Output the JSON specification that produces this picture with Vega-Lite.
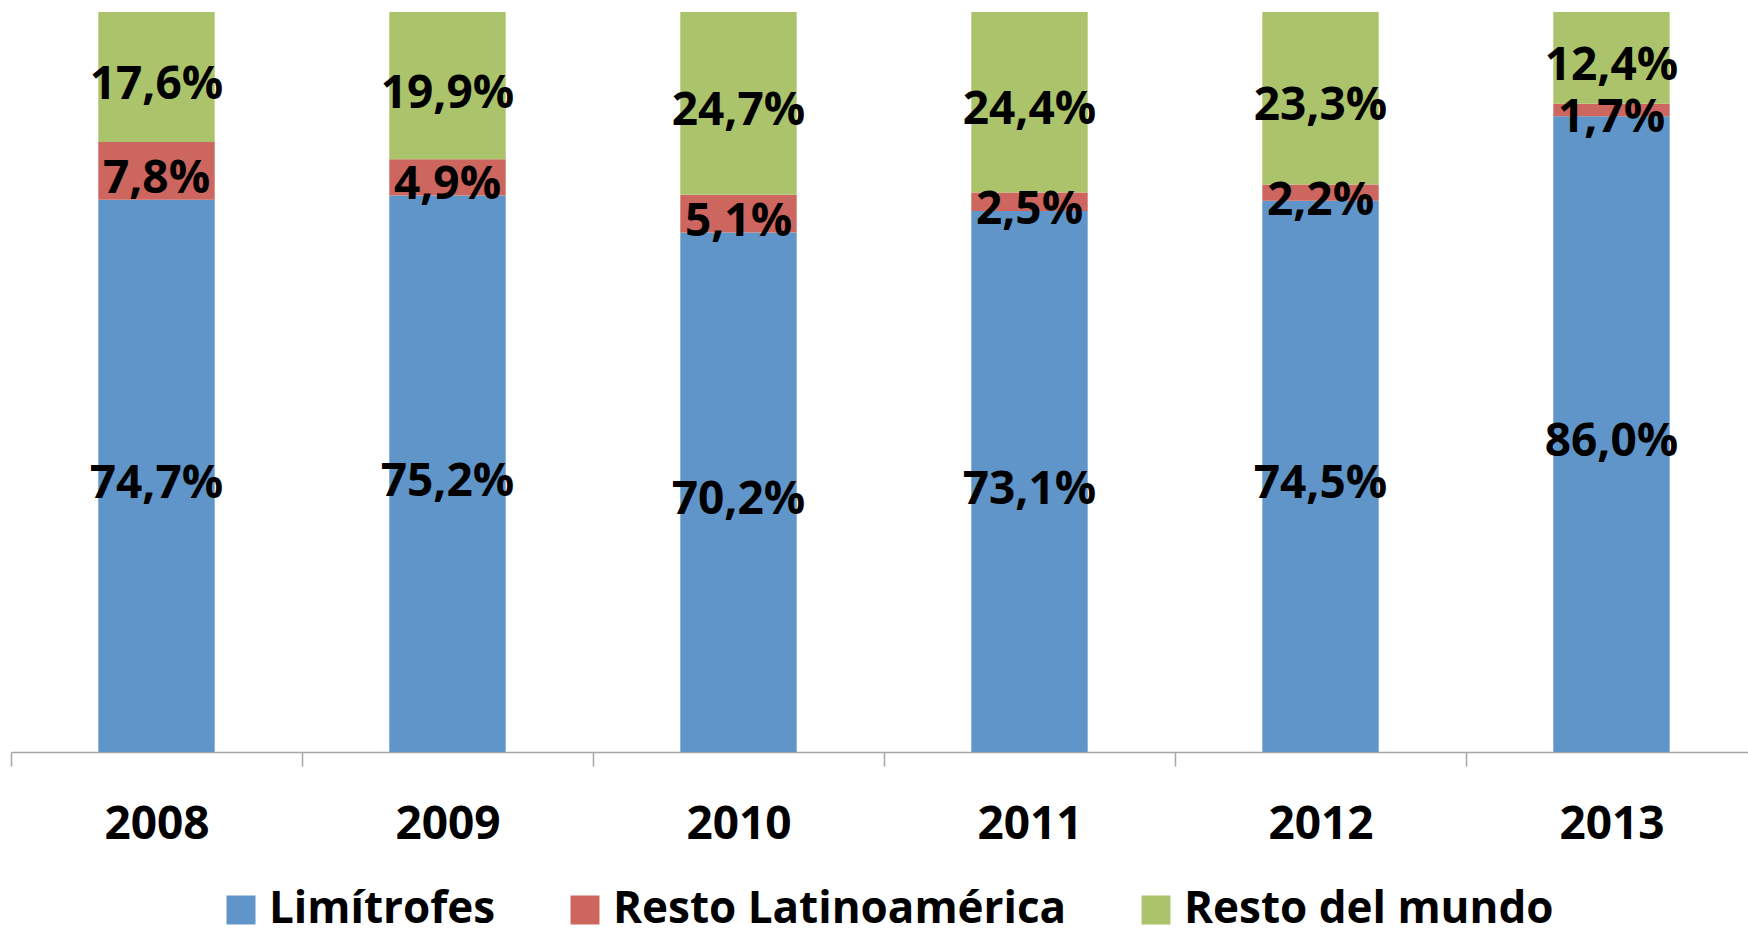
{
  "$schema": "https://vega.github.io/schema/vega-lite/v6.json",
  "width": 1737,
  "height": 740,
  "autosize": {"type": "none"},
  "padding": {"left": 11, "top": 12, "right": 0, "bottom": 185},
  "background": "white",
  "config": {"view": {"stroke": null}, "font": "Open Sans"},
  "data": {
    "values": [
      {"year": "2008", "region": "Limítrofes", "pct": 74.7},
      {"year": "2008", "region": "Resto Latinoamérica", "pct": 7.8},
      {"year": "2008", "region": "Resto del mundo", "pct": 17.6},
      {"year": "2009", "region": "Limítrofes", "pct": 75.2},
      {"year": "2009", "region": "Resto Latinoamérica", "pct": 4.9},
      {"year": "2009", "region": "Resto del mundo", "pct": 19.9},
      {"year": "2010", "region": "Limítrofes", "pct": 70.2},
      {"year": "2010", "region": "Resto Latinoamérica", "pct": 5.1},
      {"year": "2010", "region": "Resto del mundo", "pct": 24.7},
      {"year": "2011", "region": "Limítrofes", "pct": 73.1},
      {"year": "2011", "region": "Resto Latinoamérica", "pct": 2.5},
      {"year": "2011", "region": "Resto del mundo", "pct": 24.4},
      {"year": "2012", "region": "Limítrofes", "pct": 74.5},
      {"year": "2012", "region": "Resto Latinoamérica", "pct": 2.2},
      {"year": "2012", "region": "Resto del mundo", "pct": 23.3},
      {"year": "2013", "region": "Limítrofes", "pct": 86.0},
      {"year": "2013", "region": "Resto Latinoamérica", "pct": 1.7},
      {"year": "2013", "region": "Resto del mundo", "pct": 12.4}
    ]
  },
  "transform": [
    {"calculate": "replace(format(datum.pct, '.1f'), '.', ',') + '%'", "as": "label"}
  ],
  "encoding": {
    "x": {
      "field": "year",
      "type": "nominal",
      "scale": {"paddingInner": 0, "paddingOuter": 0, "range": [0, 1746]},
      "axis": {
        "title": null,
        "labelAngle": 0,
        "labelFont": "Open Sans",
        "labelFontSize": 46,
        "labelFontWeight": "bold",
        "labelColor": "black",
        "labelPadding": 36,
        "domainColor": "#A6A6A6",
        "domainWidth": 1.5,
        "tickColor": "#A6A6A6",
        "tickWidth": 1.5,
        "tickSize": 14,
        "tickBand": "extent",
        "grid": false
      }
    }
  },
  "layer": [
    {
      "mark": {"type": "bar", "width": {"band": 0.4}},
      "encoding": {
        "y": {"field": "pct", "type": "quantitative", "stack": "normalize", "axis": null},
        "order": {"field": "region", "sort": "ascending"},
        "color": {
          "field": "region",
          "type": "nominal",
          "scale": {
            "domain": ["Limítrofes", "Resto Latinoamérica", "Resto del mundo"],
            "range": ["#5F95C8", "#CD665F", "#ABC46C"]
          },
          "legend": {
            "orient": "none",
            "legendX": 208,
            "legendY": 876,
            "direction": "horizontal",
            "columns": 3,
            "title": null,
            "symbolType": "square",
            "symbolSize": 841,
            "symbolStrokeWidth": 0,
            "labelFont": "Open Sans",
            "labelFontSize": 44,
            "labelFontWeight": "bold",
            "labelColor": "black",
            "labelOffset": 6,
            "labelLimit": 0,
            "columnPadding": 67
          }
        }
      }
    },
    {
      "mark": {"type": "text", "font": "Open Sans", "fontWeight": "bold", "fontSize": 46, "baseline": "middle", "dy": 8, "color": "black"},
      "encoding": {
        "y": {"field": "pct", "type": "quantitative", "stack": "normalize", "bandPosition": 0.5},
        "order": {"field": "region", "sort": "ascending"},
        "detail": {"field": "region"},
        "text": {"field": "label"}
      }
    }
  ]
}
